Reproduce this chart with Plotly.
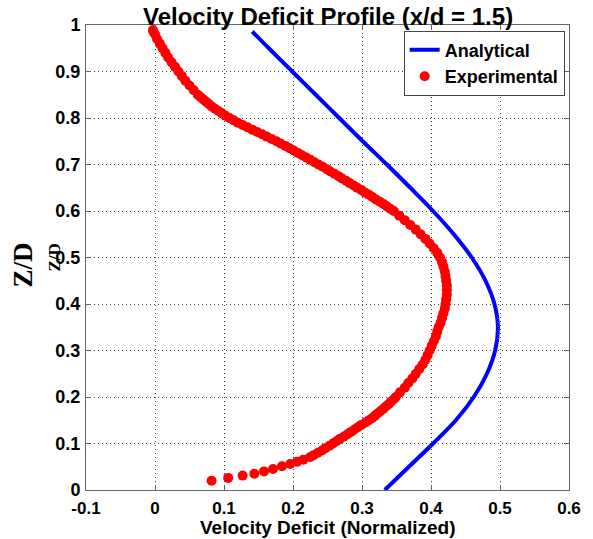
import plotly.graph_objects as go

# Analytical velocity-deficit profile (normalized deficit vs Z/D)
z_analytical = [0.986, 0.95, 0.90, 0.85, 0.80, 0.75, 0.70, 0.65, 0.60, 0.55, 0.50,
                0.45, 0.40, 0.35, 0.30, 0.25, 0.20, 0.15, 0.10, 0.05, 0.00]
u_analytical = [0.141, 0.165, 0.199, 0.233, 0.267, 0.301, 0.336, 0.370, 0.403, 0.433, 0.459,
                0.479, 0.492, 0.497, 0.493, 0.481, 0.462, 0.436, 0.403, 0.368, 0.333]

# Experimental measurements
z_experimental = [
    0.020, 0.026, 0.031, 0.035, 0.040, 0.045, 0.051, 0.056, 0.061, 0.065,
    0.071, 0.075, 0.080, 0.085, 0.090, 0.095, 0.100, 0.105, 0.110, 0.115,
    0.120, 0.125, 0.130, 0.135, 0.140, 0.145, 0.150, 0.155, 0.160, 0.165,
    0.170, 0.175, 0.180, 0.185, 0.190, 0.195, 0.200,
    0.21, 0.22, 0.23, 0.24, 0.25, 0.26, 0.27, 0.28, 0.29, 0.30,
    0.31, 0.32, 0.33, 0.34, 0.35, 0.36, 0.37, 0.38, 0.39, 0.40,
    0.41, 0.42, 0.43, 0.44, 0.45, 0.46, 0.47, 0.48, 0.49, 0.50,
    0.51, 0.52, 0.53, 0.54, 0.55, 0.56, 0.57, 0.58, 0.59,
    0.600, 0.605, 0.610, 0.615, 0.620, 0.625, 0.630, 0.635, 0.640, 0.645,
    0.650, 0.655, 0.660, 0.665, 0.670, 0.675, 0.680, 0.685, 0.690, 0.695,
    0.700, 0.705, 0.710, 0.715, 0.720, 0.725, 0.730, 0.735, 0.740, 0.745,
    0.750, 0.755, 0.760, 0.765, 0.770, 0.775, 0.780, 0.785, 0.790, 0.795,
    0.800, 0.805, 0.810, 0.815, 0.820, 0.825, 0.830, 0.835, 0.840, 0.845,
    0.850, 0.86, 0.87, 0.88, 0.89,
    0.90, 0.91, 0.92, 0.93, 0.94, 0.95, 0.96, 0.97, 0.98, 0.985, 0.989,
]
u_experimental = [
    0.082, 0.106, 0.127, 0.144, 0.158, 0.171, 0.184, 0.196, 0.206, 0.215,
    0.225, 0.230, 0.236, 0.242, 0.247, 0.253, 0.258, 0.263, 0.268, 0.274,
    0.279, 0.284, 0.289, 0.294, 0.299, 0.305, 0.310, 0.315, 0.319, 0.323,
    0.327, 0.331, 0.335, 0.339, 0.342, 0.346, 0.349,
    0.355, 0.362, 0.367, 0.373, 0.378, 0.383, 0.388, 0.392, 0.395, 0.398,
    0.401, 0.404, 0.407, 0.409, 0.411, 0.414, 0.416, 0.418, 0.420, 0.421,
    0.422, 0.423, 0.423, 0.423, 0.422, 0.421, 0.420, 0.418, 0.416, 0.413,
    0.409, 0.404, 0.398, 0.392, 0.385, 0.378, 0.370, 0.362, 0.354,
    0.346, 0.341, 0.336, 0.331, 0.326, 0.320, 0.315, 0.310, 0.304, 0.299,
    0.293, 0.288, 0.282, 0.277, 0.271, 0.266, 0.260, 0.254, 0.249, 0.243,
    0.237, 0.231, 0.225, 0.219, 0.213, 0.207, 0.201, 0.195, 0.189, 0.182,
    0.176, 0.169, 0.162, 0.155, 0.148, 0.141, 0.134, 0.127, 0.120, 0.114,
    0.108, 0.102, 0.097, 0.092, 0.087, 0.082, 0.078, 0.074, 0.070, 0.066,
    0.062, 0.056, 0.050, 0.044, 0.039,
    0.034, 0.029, 0.024, 0.019, 0.015, 0.011, 0.007, 0.003, 0.000, -0.002, -0.003,
]

x_ticks = [-0.1, 0, 0.1, 0.2, 0.3, 0.4, 0.5, 0.6]
x_tick_text = ["-0.1", "0", "0.1", "0.2", "0.3", "0.4", "0.5", "0.6"]
y_ticks = [0, 0.1, 0.2, 0.3, 0.4, 0.5, 0.6, 0.7, 0.8, 0.9, 1]
y_tick_text = ["0", "0.1", "0.2", "0.3", "0.4", "0.5", "0.6", "0.7", "0.8", "0.9", "1"]

SANS = "Liberation Sans, Arial, Helvetica, sans-serif"
SERIF = "Liberation Serif, Times New Roman, serif"

fig = go.Figure()

fig.add_trace(go.Scatter(
    x=u_analytical, y=z_analytical, mode="lines", name="Analytical",
    line=dict(color="#0000ff", width=4, shape="spline", smoothing=1.0),
))
fig.add_trace(go.Scatter(
    x=u_experimental, y=z_experimental, mode="markers", name="Experimental",
    marker=dict(color="#ff0000", size=10, line=dict(width=0)),
))

axis_common = dict(
    showline=True, linecolor="#666666", linewidth=1, mirror="ticks",
    ticks="inside", ticklen=5, tickcolor="#666666",
    showgrid=True, gridcolor="#444444", gridwidth=1, griddash="1px,3px",
    zeroline=False,
)

fig.update_xaxes(
    range=[-0.1, 0.6], tickvals=x_ticks, ticktext=x_tick_text,
    tickfont=dict(family=SANS, size=17, color="black", weight="bold"),
    ticklabelstandoff=3,
    **axis_common,
)
fig.update_yaxes(
    range=[0, 1], tickvals=y_ticks, ticktext=y_tick_text,
    tickfont=dict(family=SANS, size=18, color="black", weight="bold"),
    ticklabelstandoff=1,
    **axis_common,
)

fig.update_layout(
    width=593, height=539,
    margin=dict(l=86, r=17, t=25, b=49),
    paper_bgcolor="white", plot_bgcolor="white",
    showlegend=True,
    legend=dict(
        x=0.991, y=0.988, xanchor="right", yanchor="top",
        bgcolor="white", bordercolor="#444444", borderwidth=1,
        font=dict(family=SANS, size=18, color="black", weight="bold"),
        tracegroupgap=0, itemwidth=30,
    ),
    annotations=[
        dict(text="Velocity Deficit Profile (x/d = 1.5)", xref="paper", yref="paper",
             x=0.5, y=1, yshift=9, xanchor="center", yanchor="middle", showarrow=False,
             font=dict(family=SANS, size=24, color="black", weight="bold")),
        dict(text="Velocity Deficit (Normalized)", xref="paper", yref="paper",
             x=0.5, y=-0.0807, xanchor="center", yanchor="middle", showarrow=False,
             font=dict(family=SANS, size=19, color="black", weight="bold")),
        dict(text="Z/D", xref="paper", yref="paper", textangle=-90,
             x=0, xshift=-63, y=0.483, xanchor="center", yanchor="middle", showarrow=False,
             font=dict(family=SERIF, size=27, color="black", weight="bold")),
        dict(text="Z/D", xref="paper", yref="paper", textangle=-90,
             x=0, xshift=-32, y=0.5, xanchor="center", yanchor="middle", showarrow=False,
             font=dict(family=SERIF, size=17, color="black", weight="bold")),
    ],
)

fig.write_html("out.html")
